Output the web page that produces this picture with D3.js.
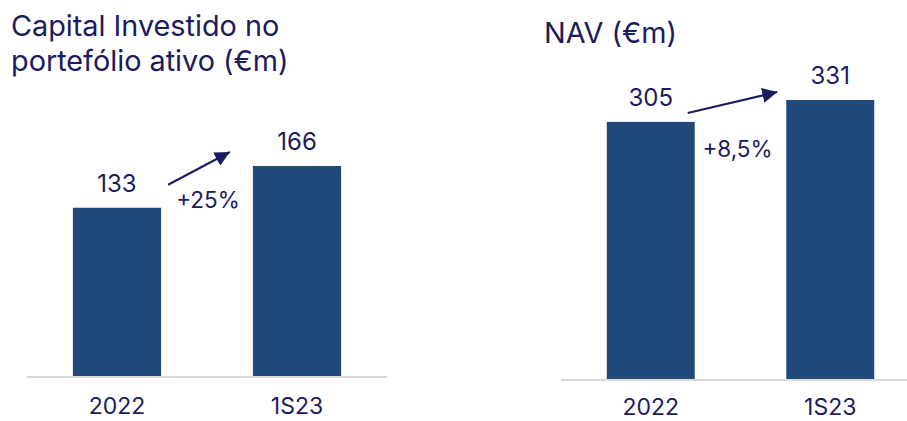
<!DOCTYPE html>
<html>
<head>
<meta charset="utf-8">
<script src="https://cdn.jsdelivr.net/npm/d3@7"></script>
<style>
  body { margin: 0; background: #fff; }
  svg text { font-family: Inter, "Noto Sans", sans-serif; fill: #1b1b5e; }
</style>
</head>
<body>
<svg id="chart" width="907" height="421"></svg>
<script>
// data
var categories = ['2022', '1S23'];
var capitalValues = [133, 166];
var navValues = [305, 331];
var capitalGrowth = '+25%';
var navGrowth = '+8,5%';
var capitalTitle = ['Capital Investido no', 'portefólio ativo (€m)'];
var navTitle = ['NAV (€m)'];

var barColor = '#214a7b';
var inkColor = '#1b1b5e';

var svg = d3.select('#chart');

svg.append('defs').append('marker')
  .attr('id', 'head')
  .attr('viewBox', '0 0 10 10')
  .attr('refX', 10)
  .attr('refY', 5)
  .attr('markerWidth', 7.5)
  .attr('markerHeight', 7.5)
  .attr('markerUnits', 'strokeWidth')
  .attr('orient', 'auto')
  .append('path')
  .attr('d', 'M0,0 L10,5 L0,10 Z')
  .style('fill', inkColor);

var drawPanel = function (opts) {
  var g = svg.append('g');

  var x = d3.scaleBand()
    .domain(categories)
    .range(opts.xRange)
    .paddingInner(0.51)
    .paddingOuter(0.255);

  var y = d3.scaleLinear()
    .domain([0, d3.max(opts.values)])
    .range([opts.base, opts.top]);

  // title
  g.selectAll('text.title')
    .data(opts.title)
    .enter().append('text')
    .attr('class', 'title')
    .attr('x', opts.titleX)
    .attr('y', function (d, i) { return opts.titleY + i * 35; })
    .style('font-size', '28.8px')
    .text(function (d) { return d; });

  // baseline
  g.append('line')
    .attr('x1', opts.xRange[0])
    .attr('x2', opts.xRange[1])
    .attr('y1', opts.base + 1)
    .attr('y2', opts.base + 1)
    .style('stroke', '#d9d9d9')
    .style('stroke-width', 2);

  // bars
  g.selectAll('rect.bar')
    .data(opts.values)
    .enter().append('rect')
    .attr('class', 'bar')
    .attr('x', function (d, i) { return x(categories[i]); })
    .attr('y', function (d) { return y(d); })
    .attr('width', x.bandwidth())
    .attr('height', function (d) { return opts.base - y(d); })
    .style('fill', barColor);

  // value labels
  g.selectAll('text.value')
    .data(opts.values)
    .enter().append('text')
    .attr('class', 'value')
    .attr('x', function (d, i) { return x(categories[i]) + x.bandwidth() / 2; })
    .attr('y', function (d) { return y(d) - 16; })
    .attr('text-anchor', 'middle')
    .style('font-size', '24px')
    .text(function (d) { return d; });

  // category labels
  g.selectAll('text.cat')
    .data(categories)
    .enter().append('text')
    .attr('class', 'cat')
    .attr('x', function (d) { return x(d) + x.bandwidth() / 2; })
    .attr('y', opts.base + opts.catDy)
    .attr('text-anchor', 'middle')
    .style('font-size', '23px')
    .text(function (d) { return d; });

  // growth arrow
  var a = opts.arrow;
  g.append('line')
    .attr('x1', x(categories[0]) + x.bandwidth() + a[0])
    .attr('y1', y(opts.values[0]) + a[1])
    .attr('x2', x(categories[1]) + a[2])
    .attr('y2', y(opts.values[1]) + a[3])
    .style('stroke', inkColor)
    .style('stroke-width', 2)
    .attr('marker-end', 'url(#head)');

  g.append('text')
    .attr('x', (x(categories[0]) + x.bandwidth() + x(categories[1])) / 2 + opts.growthDx)
    .attr('y', y(opts.values[0]) + opts.growthDy)
    .attr('text-anchor', 'middle')
    .style('font-size', '22.5px')
    .text(opts.growth);
};

drawPanel({
  values: capitalValues,
  title: capitalTitle,
  titleX: 11, titleY: 36,
  xRange: [27, 387],
  base: 376, top: 166,
  catDy: 38,
  arrow: [7, -23, -23, -14],
  growth: capitalGrowth,
  growthDx: 1, growthDy: 0
});

drawPanel({
  values: navValues,
  title: navTitle,
  titleX: 544, titleY: 43,
  xRange: [561, 920],
  base: 379, top: 100,
  catDy: 36,
  arrow: [-7, -9, -9, -8],
  growth: navGrowth,
  growthDx: -3, growthDy: 35
});
</script>
</body>
</html>
